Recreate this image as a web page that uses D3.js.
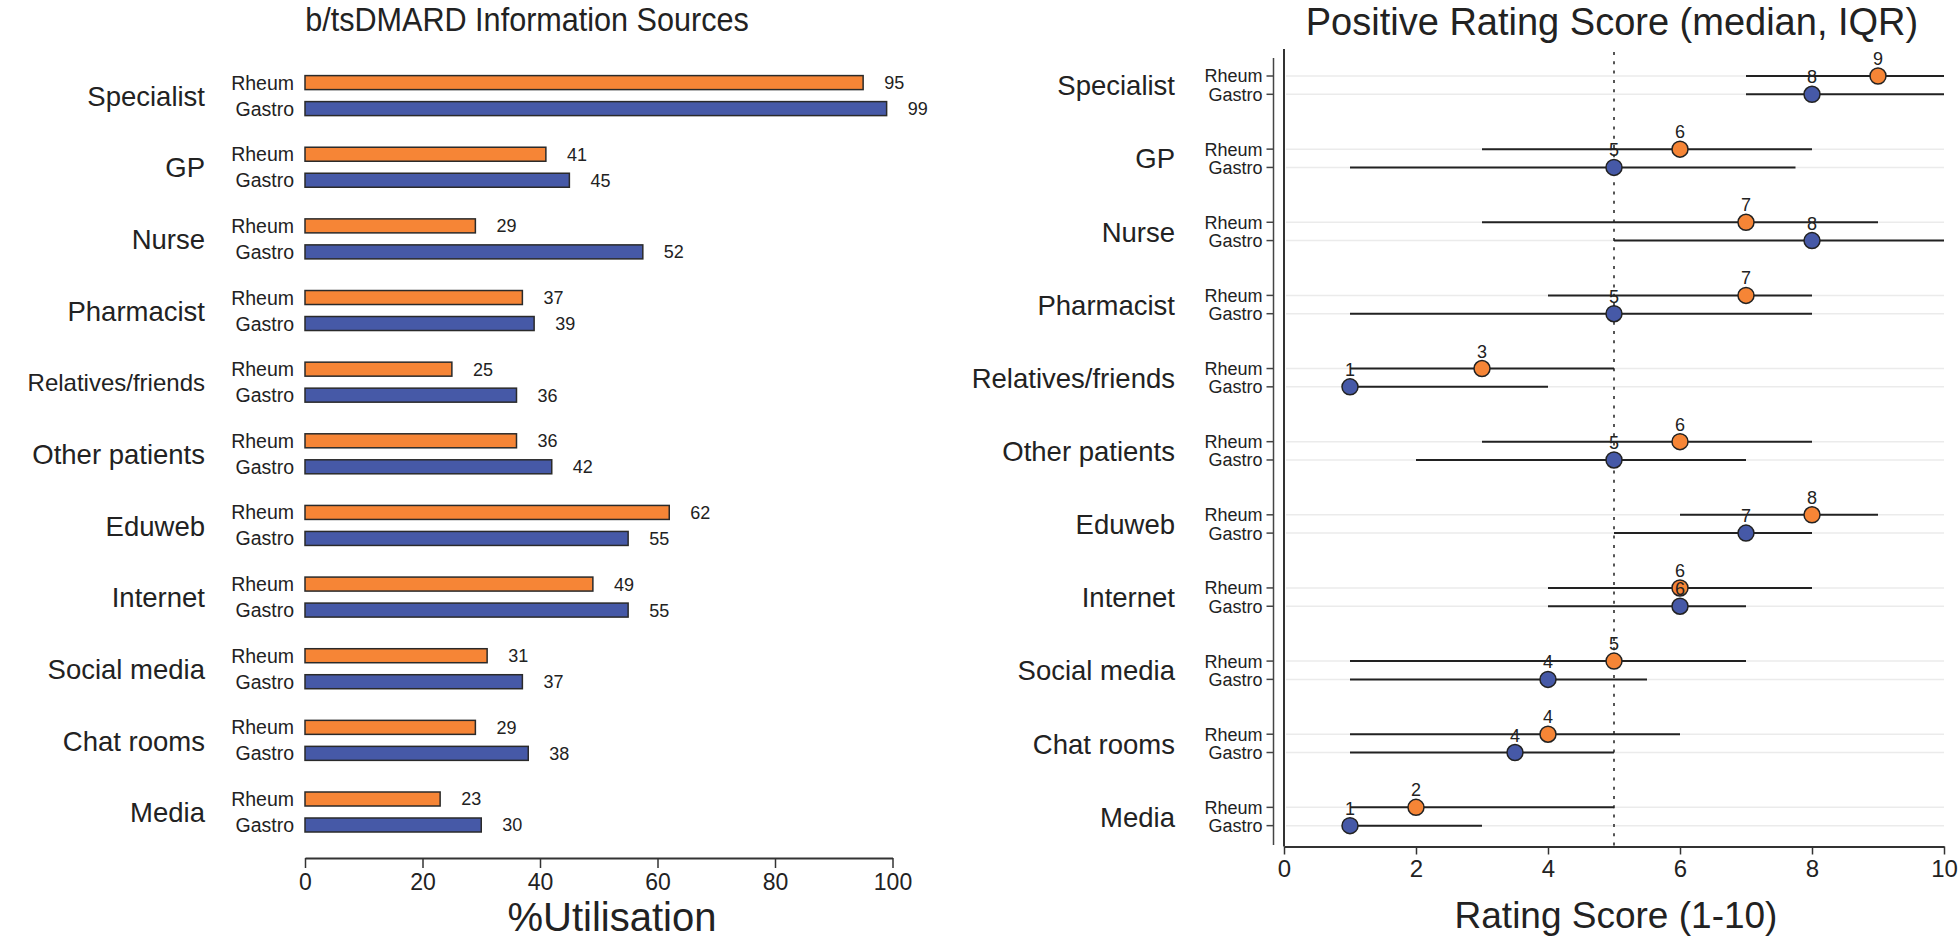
<!DOCTYPE html>
<html>
<head>
<meta charset="utf-8">
<script src="https://cdn.jsdelivr.net/npm/d3@7"></script>
<style>
  html, body { margin: 0; padding: 0; background: #fff; }
  svg { display: block; font-family: "Liberation Sans", Arial, sans-serif; }
</style>
</head>
<body>
<svg id="chart" width="1960" height="941"></svg>
<script>
// ---------- DATA ----------
const categories = ["Specialist", "GP", "Nurse", "Pharmacist", "Relatives/friends",
  "Other patients", "Eduweb", "Internet", "Social media", "Chat rooms", "Media"];
const groups = ["Rheum", "Gastro"];

// Left panel: % utilisation (bar lengths as drawn, and printed labels)
const utilRheum  = [95, 41, 29, 37, 25, 36, 62, 49, 31, 29, 23];
const utilGastro = [99, 45, 57.5, 39, 36, 42, 55, 55, 37, 38, 30];
const utilRheumLabel  = ["95", "41", "29", "37", "25", "36", "62", "49", "31", "29", "23"];
const utilGastroLabel = ["99", "45", "52", "39", "36", "42", "55", "55", "37", "38", "30"];
const utilTicks = [0, 20, 40, 60, 80, 100];

// Right panel: positive rating score (median, IQR)
const rheumMedian = [9, 6, 7, 7, 3, 6, 8, 6, 5, 4, 2];
const rheumLow    = [7, 3, 3, 4, 1, 3, 6, 4, 1, 1, 1];
const rheumHigh   = [10, 8, 9, 8, 5, 8, 9, 8, 7, 6, 5];
const rheumLabel  = ["9", "6", "7", "7", "3", "6", "8", "6", "5", "4", "2"];
const gastroMedian = [8, 5, 8, 5, 1, 5, 7, 6, 4, 3.5, 1];
const gastroLow    = [7, 1, 5, 1, 1, 2, 5, 4, 1, 1, 1];
const gastroHigh   = [10, 7.75, 10, 8, 4, 7, 8, 7, 5.5, 5, 3];
const gastroLabel  = ["8", "5", "8", "5", "1", "5", "7", "6", "4", "4", "1"];
const ratingTicks = [0, 2, 4, 6, 8, 10];
const referenceScore = 5;

const colors = { Rheum: "#f68536", Gastro: "#4659a7" };

// ---------- SETUP ----------
const svg = d3.select("#chart");
const ink = "#222";

// ================= LEFT PANEL =================
const L = svg.append("g");
const xL = d3.scaleLinear().domain([0, 100]).range([305, 892.5]);
const yL = d3.scalePoint().domain(categories).range([95.6, 812]);
const subL = d3.scalePoint().domain(groups).range([-13, 13]);
const barH = 14;

const barData = [];
categories.forEach((c, i) => {
  barData.push({ cat: c, grp: "Rheum", v: utilRheum[i], lab: utilRheumLabel[i] });
  barData.push({ cat: c, grp: "Gastro", v: utilGastro[i], lab: utilGastroLabel[i] });
});

L.append("text")
  .attr("transform", "translate(527,31) scale(0.9,1)")
  .attr("text-anchor", "middle")
  .attr("font-size", 34).attr("fill", ink)
  .text("b/tsDMARD Information Sources");

L.selectAll("rect.bar").data(barData).join("rect")
  .attr("class", "bar")
  .attr("x", xL(0))
  .attr("y", d => yL(d.cat) + subL(d.grp) - barH / 2)
  .attr("width", d => xL(d.v) - xL(0))
  .attr("height", barH)
  .attr("fill", d => colors[d.grp])
  .attr("stroke", "#2a2a2a").attr("stroke-width", 1.5);

L.selectAll("text.val").data(barData).join("text")
  .attr("class", "val")
  .attr("x", d => xL(d.v) + 21)
  .attr("y", d => yL(d.cat) + subL(d.grp))
  .attr("dy", "0.36em")
  .attr("font-size", 18).attr("fill", ink)
  .text(d => d.lab);

L.selectAll("text.sub").data(barData).join("text")
  .attr("class", "sub")
  .attr("x", 294)
  .attr("y", d => yL(d.cat) + subL(d.grp))
  .attr("dy", "0.36em")
  .attr("text-anchor", "end")
  .attr("font-size", 19.5).attr("fill", ink)
  .text(d => d.grp);

L.selectAll("text.cat").data(categories).join("text")
  .attr("class", "cat")
  .attr("x", 205)
  .attr("y", d => yL(d))
  .attr("dy", "0.37em")
  .attr("text-anchor", "end")
  .attr("font-size", d => d.length > 15 ? 24 : 27.5).attr("fill", ink)
  .text(d => d);

const axL = L.append("g")
  .attr("transform", "translate(0,858)")
  .call(d3.axisBottom(xL).tickValues(utilTicks).tickSize(10).tickSizeOuter(0).tickPadding(6));
axL.select(".domain").attr("stroke", "#333").attr("stroke-width", 2);
axL.selectAll(".tick line").attr("stroke", "#333").attr("stroke-width", 1.5);
axL.selectAll(".tick text").attr("font-size", 23).attr("fill", ink)
  .attr("font-family", "'Liberation Sans', Arial, sans-serif");

L.append("text")
  .attr("x", 612).attr("y", 931)
  .attr("text-anchor", "middle")
  .attr("font-size", 40).attr("fill", ink)
  .text("%Utilisation");

// ================= RIGHT PANEL =================
const R = svg.append("g");
const xR = d3.scaleLinear().domain([0, 10]).range([1284, 1944]);
const yR = d3.scalePoint().domain(categories).range([85.15, 816.5]);
const subR = d3.scalePoint().domain(groups).range([-9.15, 9.15]);

const ptData = [];
categories.forEach((c, i) => {
  ptData.push({ cat: c, grp: "Rheum", m: rheumMedian[i], lo: rheumLow[i], hi: rheumHigh[i], lab: rheumLabel[i] });
  ptData.push({ cat: c, grp: "Gastro", m: gastroMedian[i], lo: gastroLow[i], hi: gastroHigh[i], lab: gastroLabel[i] });
});
const rowY = d => yR(d.cat) + subR(d.grp);
const axisY = 846.5;

R.append("text")
  .attr("x", 1612).attr("y", 34.5)
  .attr("text-anchor", "middle")
  .attr("font-size", 38).attr("fill", ink)
  .text("Positive Rating Score (median, IQR)");

// gridlines
R.selectAll("line.grid").data(ptData).join("line")
  .attr("class", "grid")
  .attr("x1", xR(0) + 2).attr("x2", xR(10))
  .attr("y1", rowY).attr("y2", rowY)
  .attr("stroke", "#ebebeb").attr("stroke-width", 1.5);

// reference dotted line
R.append("line")
  .attr("x1", xR(referenceScore)).attr("x2", xR(referenceScore))
  .attr("y1", 52).attr("y2", axisY)
  .attr("stroke", "#555").attr("stroke-width", 2)
  .attr("stroke-dasharray", "3,6.3");

// panel left border (x = 0)
R.append("line")
  .attr("x1", xR(0)).attr("x2", xR(0))
  .attr("y1", 49).attr("y2", axisY)
  .attr("stroke", "#333").attr("stroke-width", 2);

// y axis (offset)
const yAx = R.append("g").attr("transform", "translate(1273.5,0)");
yAx.append("line").attr("x1", 0).attr("x2", 0).attr("y1", 58).attr("y2", 845)
  .attr("stroke", "#444").attr("stroke-width", 1.5);
yAx.selectAll("line.tk").data(ptData).join("line")
  .attr("class", "tk")
  .attr("x1", -7).attr("x2", 0)
  .attr("y1", rowY).attr("y2", rowY)
  .attr("stroke", "#444").attr("stroke-width", 1.5);

R.selectAll("text.sub").data(ptData).join("text")
  .attr("class", "sub")
  .attr("x", 1262.5)
  .attr("y", rowY)
  .attr("dy", "0.36em")
  .attr("text-anchor", "end")
  .attr("font-size", 18).attr("fill", ink)
  .text(d => d.grp);

R.selectAll("text.cat").data(categories).join("text")
  .attr("class", "cat")
  .attr("x", 1175)
  .attr("y", d => yR(d))
  .attr("dy", "0.37em")
  .attr("text-anchor", "end")
  .attr("font-size", 27.5).attr("fill", ink)
  .text(d => d);

// IQR lines
R.selectAll("line.iqr").data(ptData).join("line")
  .attr("class", "iqr")
  .attr("x1", d => xR(d.lo)).attr("x2", d => xR(d.hi))
  .attr("y1", rowY).attr("y2", rowY)
  .attr("stroke", "#222").attr("stroke-width", 2);

// points
R.selectAll("circle.pt").data(ptData).join("circle")
  .attr("class", "pt")
  .attr("cx", d => xR(d.m)).attr("cy", rowY)
  .attr("r", 8)
  .attr("fill", d => colors[d.grp])
  .attr("stroke", "#222").attr("stroke-width", 1.5);

// median labels
R.selectAll("text.med").data(ptData).join("text")
  .attr("class", "med")
  .attr("x", d => xR(d.m)).attr("y", d => rowY(d) - 11)
  .attr("text-anchor", "middle")
  .attr("font-size", 18).attr("fill", ink)
  .text(d => d.lab);

// x axis
const axR = R.append("g")
  .attr("transform", `translate(0,${axisY})`)
  .call(d3.axisBottom(xR).tickValues(ratingTicks).tickSize(8).tickSizeOuter(0).tickPadding(5));
axR.select(".domain").attr("stroke", "#333").attr("stroke-width", 2);
axR.selectAll(".tick line").attr("stroke", "#333").attr("stroke-width", 1.5);
axR.selectAll(".tick text").attr("font-size", 24).attr("fill", ink)
  .attr("font-family", "'Liberation Sans', Arial, sans-serif");

R.append("text")
  .attr("x", 1616).attr("y", 928)
  .attr("text-anchor", "middle")
  .attr("font-size", 37).attr("fill", ink)
  .text("Rating Score (1-10)");
</script>
</body>
</html>
